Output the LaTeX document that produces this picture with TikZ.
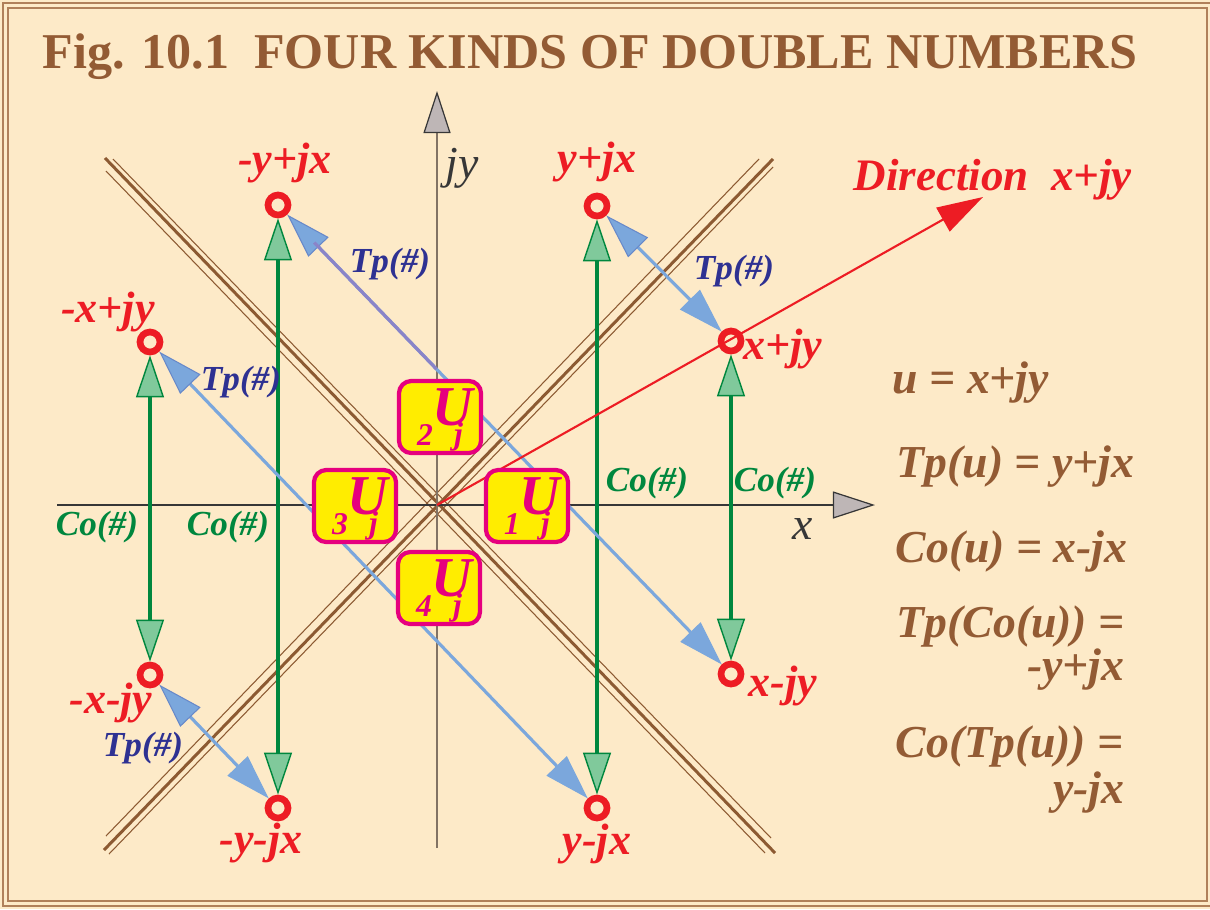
\documentclass[tikz,border=0pt]{standalone}
\usepackage{fontspec}
\setmainfont{Liberation Serif}
\usepackage{tikz}
\usetikzlibrary{arrows.meta,calc}
\definecolor{bgbeige}{RGB}{253,234,200}
\definecolor{framebrown}{RGB}{176,128,90}
\definecolor{titlebrown}{RGB}{147,91,52}
\definecolor{linebrown}{RGB}{140,90,50}
\definecolor{ptred}{RGB}{237,28,36}
\definecolor{tpblue}{RGB}{46,49,146}
\definecolor{arrblue}{RGB}{123,167,220}
\definecolor{arrpurple}{RGB}{138,132,200}
\definecolor{cogreen}{RGB}{0,135,62}
\definecolor{cofill}{RGB}{128,201,155}
\definecolor{ujmag}{RGB}{230,0,126}
\definecolor{ujyellow}{RGB}{255,237,0}
\definecolor{axisgray}{RGB}{190,182,182}
\definecolor{axisdark}{RGB}{55,55,55}
\definecolor{axisbrown}{RGB}{130,115,100}
\newcommand{\Usub}[1]{\raisebox{-5.6pt}[0pt][0pt]{\fontsize{9}{9}\selectfont #1}U\hspace{-5.5pt}\raisebox{-5.4pt}[0pt][0pt]{\fontsize{9}{9}\selectfont j}}

\begin{document}
\begin{tikzpicture}[x=0.01cm, y=-0.01cm,
    dnum/.style={circle, draw=ptred, line width=1.9pt, minimum size=0.2cm, inner sep=0pt},
    numlabel/.style={text=ptred, font=\fontsize{12.5}{14}\selectfont\bfseries\itshape, inner sep=0pt},
    tplabel/.style={text=tpblue, font=\fontsize{10}{12}\selectfont\bfseries\itshape, inner sep=0pt},
    colabel/.style={text=cogreen, font=\fontsize{10}{12}\selectfont\bfseries\itshape, inner sep=0pt},
    eqlabel/.style={anchor=base west, text=titlebrown, font=\fontsize{13}{16}\selectfont\bfseries\itshape, inner sep=0pt},
    axislabel/.style={text=axisdark, font=\fontsize{13}{14}\selectfont\itshape, inner sep=0pt},
    ujbox/.style={draw=ujmag, fill=ujyellow, line width=1.2pt, rounded corners=3.5pt, minimum width=0.82cm, minimum height=0.72cm, inner sep=0pt, text depth=5.6pt, text=ujmag, font=\fontsize{16}{16}\selectfont\bfseries\itshape},
    tparrow/.style={draw=arrblue, line width=0.9pt, arrows={Triangle[length=4.5mm,width=2.8mm,line width=0.3pt,color=arrblue!75!tpblue,fill=arrblue]-Triangle[length=4.5mm,width=2.8mm,line width=0.3pt,fill=arrblue]}},
    coarrow/.style={draw=cogreen, line width=1.1pt, arrows={Triangle[length=4.2mm,width=2.8mm,line width=0.4pt,fill=cofill]-Triangle[length=4.2mm,width=2.8mm,line width=0.4pt,fill=cofill]}},
    axisarrow/.style={line width=0.35pt, arrows={-Triangle[length=4.2mm,width=2.7mm,line width=0.35pt,color=axisdark,fill=axisgray]}},
    thickdiag/.style={draw=linebrown, line width=0.85pt},
    thindiag/.style={draw=linebrown, line width=0.3pt}]

    % background and frame
    \useasboundingbox (0,0) rectangle (1210,909);
    \fill[bgbeige] (0,0) rectangle (1210,909);
    \draw[framebrown, line width=0.5pt] (3,3) rectangle (1213,906);
    \draw[framebrown, line width=0.5pt] (8,8) rectangle (1207,901);

    \node[anchor=base west, inner sep=0pt, text=titlebrown, font=\fontsize{14.25}{18}\selectfont\bfseries] (title) at (42,68) {Fig. 10.1\ \ FOUR KINDS OF DOUBLE NUMBERS};

    % light cone lines
    \draw[thickdiag] (104,850) -- (773,159);
    \draw[thindiag] (106,836) -- (759,159);
    \draw[thindiag] (109,854) -- (773,167);
    \draw[thickdiag] (105,158) -- (775,853);
    \draw[thindiag] (113,159) -- (771,838);
    \draw[thindiag] (106,171) -- (765,853);

    % axes
    \coordinate (O) at (437,505);
    \coordinate (xl) at (57,505);
    \coordinate (xr) at (875,505);
    \coordinate (yb) at (437,848);
    \coordinate (yt) at (437,91);
    \draw[axisarrow, draw=axisdark] (xl) -- (xr);
    \draw[axisarrow, draw=axisbrown] (yb) -- (yt);
    \node[axislabel] (xlab) at (803,529) {x};
    \node[axislabel] (ylab) at (462,168) {jy};

    % the eight double numbers
    \node[dnum] (ypjx)  at (597,206) {};
    \node[dnum] (xpjy)  at (731,341) {};
    \node[dnum] (xmjy)  at (731,674) {};
    \node[dnum] (ymjx)  at (597,808) {};
    \node[dnum] (mymjx) at (278,808) {};
    \node[dnum] (mxmjy) at (150,675) {};
    \node[dnum] (mxpjy) at (150,342) {};
    \node[dnum] (mypjx) at (278,205) {};

    \node[numlabel] (l-ypjx)  at (597,162) {y+jx};
    \node[numlabel] (l-xpjy)  at (783,349) {x+jy};
    \node[numlabel] (l-xmjy)  at (783,686) {x-jy};
    \node[numlabel] (l-ymjx)  at (597,844) {y-jx};
    \node[numlabel] (l-mymjx) at (261,843) {-y-jx};
    \node[numlabel] (l-mxmjy) at (111,703) {-x-jy};
    \node[numlabel] (l-mxpjy) at (108,312) {-x+jy};
    \node[numlabel] (l-mypjx) at (285,163) {-y+jx};

    % conjugation
    \draw[coarrow] (mxpjy) -- (mxmjy);
    \draw[coarrow] (mypjx) -- (mymjx);
    \draw[coarrow] (ypjx) -- (ymjx);
    \draw[coarrow] (xpjy) -- (xmjy);
    \node[colabel] (co1) at (97,527) {Co(\#)};
    \node[colabel] (co2) at (228,527) {Co(\#)};
    \node[colabel] (co3) at (647,483) {Co(\#)};
    \node[colabel] (co4) at (775,483) {Co(\#)};

    % transposition
    \draw[tparrow] (ypjx) -- (xpjy);
    \draw[tparrow] (mypjx) -- (xmjy);
    \draw[arrpurple, line width=0.9pt] ($(mypjx)!0.08!(xmjy)$) -- ($(mypjx)!0.35!(xmjy)$);
    \draw[tparrow] (mxpjy) -- (ymjx);
    \draw[tparrow] (mxmjy) -- (mymjx);
    \node[tplabel] (tp1) at (390,264) {Tp(\#)};
    \node[tplabel] (tp2) at (734,271) {Tp(\#)};
    \node[tplabel] (tp3) at (241,382) {Tp(\#)};
    \node[tplabel] (tp4) at (143,748) {Tp(\#)};

    % direction
    \coordinate (dirtip) at (983,197);
    \draw[ptred, line width=0.6pt, arrows={-Triangle[length=4.6mm,width=2.7mm]}] (O) -- (dirtip);
    \node[anchor=base west, inner sep=0pt, text=ptred, font=\fontsize{12.8}{14}\selectfont\bfseries\itshape] (dirlab) at (853,190) {Direction\ \ x+jy};

    % quadrant boxes
    \node[ujbox] (U1) at (527,506) {\Usub{1}};
    \node[ujbox] (U2) at (440,417) {\Usub{2}};
    \node[ujbox] (U3) at (355,506) {\Usub{3}};
    \node[ujbox] (U4) at (439,588) {\Usub{4}};

    % formulas
    \node[eqlabel] (eq1) at (892,393) {u = x+jy};
    \node[eqlabel] (eq2) at (896,477) {Tp(u) = y+jx};
    \node[eqlabel] (eq3) at (895,562) {Co(u) = x-jx};
    \node[eqlabel] (eq4) at (896,637) {Tp(Co(u)) =};
    \node[eqlabel, anchor=base east] (eq5) at (1125,680) {-y+jx};
    \node[eqlabel] (eq6) at (895,757) {Co(Tp(u)) =};
    \node[eqlabel, anchor=base east] (eq7) at (1125,803) {y-jx};
\end{tikzpicture}
\end{document}
